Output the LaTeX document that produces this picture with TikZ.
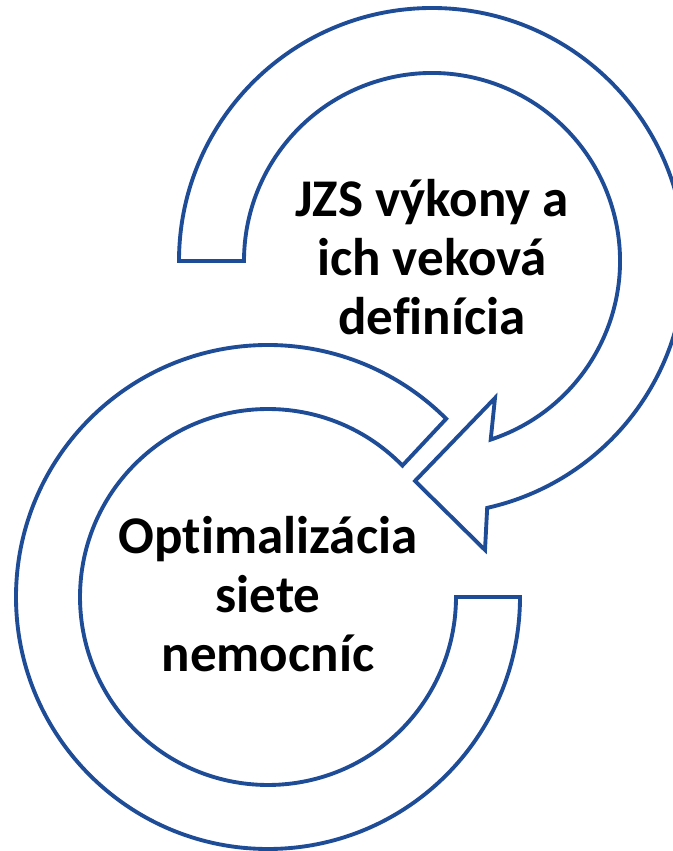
\documentclass[tikz,border=0pt]{standalone}
\usepackage{fontspec}
\setmainfont[Ligatures={NoCommon}]{Carlito}
\usepackage{tikz}
\usetikzlibrary{calc}
\definecolor{bandblue}{RGB}{30,76,150}
% keep t+i and f+i apart, as in the reference
\newcommand{\nolig}{\kern0pt}

\begin{document}
\begin{tikzpicture}[x=0.75pt, y=0.75pt,
        band/.style={draw=bandblue, line width=2.9pt, fill=white, line join=miter},
        cycletext/.style={align=center, font=\bfseries\fontsize{39.75}{44.4}\selectfont, inner sep=0pt}]
            \useasboundingbox (0,0) rectangle (673,851);
            \clip (0,0) rectangle (673,851);
            \coordinate (ctop) at (432, 590);
            \coordinate (cbot) at (268, 254);

            % lower ring, tail on the right, open end at upper right
            \draw[band] ($(cbot)+(0:252)$) arc[start angle=0, end angle=-315, radius=252]
                -- ($(cbot)+(44.35:188)$) arc[start angle=-315.65, end angle=0, radius=188] -- cycle;

            % upper ring with its head pointing down-left
            \draw[band] ($(ctop)+(180:253)$) arc[start angle=180, end angle=-77.4, radius=253]
                -- (485, 301) -- (415, 370) -- (495, 453)
                -- ($(ctop)+(-71.8:188)$) arc[start angle=-71.8, end angle=180, radius=188] -- cycle;

            \node[cycletext] (jzs) at (432, 594) {JZS výkony a\\ich veková\\def\nolig inícia};
            \node[cycletext] (opt) at (268, 257) {Opt\nolig imalizácia\\siete\\nemocníc};
        \end{tikzpicture}
\end{document}
